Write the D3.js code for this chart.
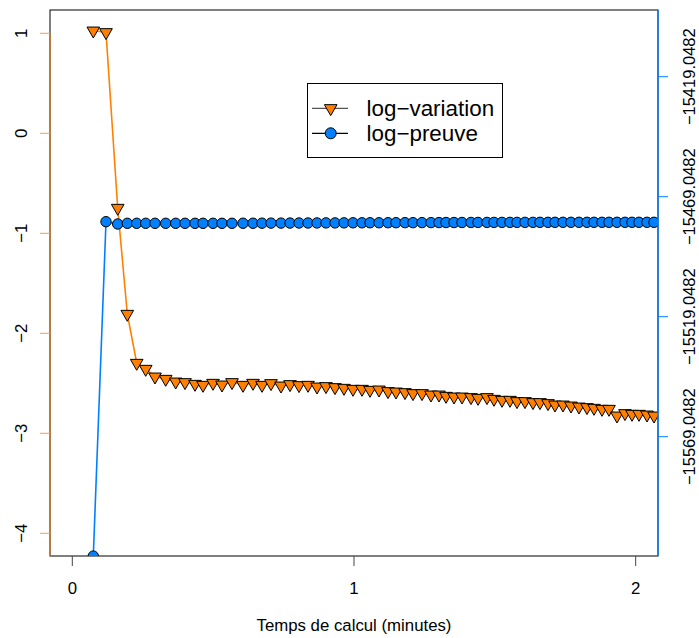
<!DOCTYPE html>
<html><head><meta charset="utf-8">
<script src="https://cdn.jsdelivr.net/npm/d3@7"></script>
<style>html,body{margin:0;padding:0;background:#fff;} svg{display:block;font-family:"Liberation Sans",Arial,sans-serif;}</style>
</head><body>
<svg id="chart" width="699" height="638"></svg>
<script>
const times = [0.0745,0.1196,0.1612,0.1952,0.2286,0.2606,0.2936,0.3316,0.3671,0.4001,
0.4356,0.4640,0.4995,0.5314,0.5669,0.6060,0.6415,0.6734,0.7054,0.7409,
0.7728,0.8048,0.8367,0.8687,0.9006,0.9326,0.9645,0.9965,1.0284,1.0568,
1.0887,1.1207,1.1491,1.1810,1.2094,1.2414,1.2733,1.3017,1.3266,1.3550,
1.3834,1.4153,1.4402,1.4721,1.4970,1.5254,1.5538,1.5786,1.6070,1.6354,
1.6603,1.6887,1.7135,1.7419,1.7703,1.7987,1.8271,1.8520,1.8804,1.9052,
1.9336,1.9620,1.9869,2.0117,2.0401,2.0650];
const logVariation = [1.026,1.010,-0.747,-1.807,-2.297,-2.357,-2.434,-2.457,-2.484,-2.490,
-2.507,-2.517,-2.497,-2.514,-2.490,-2.517,-2.497,-2.517,-2.500,-2.524,
-2.510,-2.520,-2.517,-2.534,-2.530,-2.540,-2.547,-2.557,-2.557,-2.567,
-2.564,-2.580,-2.584,-2.590,-2.600,-2.600,-2.614,-2.614,-2.627,-2.634,
-2.634,-2.640,-2.647,-2.640,-2.657,-2.667,-2.667,-2.680,-2.680,-2.690,
-2.690,-2.700,-2.714,-2.714,-2.724,-2.734,-2.740,-2.747,-2.757,-2.757,
-2.824,-2.800,-2.807,-2.807,-2.814,-2.824];
const logPreuve = [-15618.8,-15479.46,-15480.42,-15480.13,-15480.13,-15480.13,-15480.13,-15480.13,-15480.13,-15480.13,
-15480.13,-15480.13,-15480.13,-15480.13,-15480.13,-15480.10,-15480.10,-15480.08,-15480.05,-15480.05,
-15480.02,-15480.00,-15480.00,-15479.98,-15479.96,-15479.96,-15479.94,-15479.92,-15479.92,-15479.90,
-15479.90,-15479.88,-15479.88,-15479.86,-15479.86,-15479.84,-15479.84,-15479.82,-15479.80,-15479.80,
-15479.78,-15479.78,-15479.76,-15479.76,-15479.75,-15479.75,-15479.74,-15479.74,-15479.73,-15479.73,
-15479.72,-15479.72,-15479.71,-15479.71,-15479.71,-15479.71,-15479.71,-15479.71,-15479.71,-15479.71,
-15479.71,-15479.71,-15479.71,-15479.71,-15479.71,-15479.71];
const xTicks = [0, 1, 2];
const leftTicks = [1, 0, -1, -2, -3, -4];
const rightTicks = [-15419.0482, -15469.0482, -15519.0482, -15569.0482];
const rightTickLabels = ["\u221215419.0482", "\u221215469.0482", "\u221215519.0482", "\u221215569.0482"];
const seriesNames = ["log\u2212variation", "log\u2212preuve"];
const xTitle = "Temps de calcul (minutes)";

const ORANGE = "#ff8000", BLUE = "#0080ff";
const L = 50, R = 658, T = 10, B = 556;
const svg = d3.select("#chart");
const x = d3.scaleLinear().domain([-0.0792, 2.0792]).range([L, R]);
const yL = d3.scaleLinear().domain([-4.227, 1.233]).range([B, T]);
const yR = d3.scaleLinear().domain([-15618.76, -15391.25]).range([B, T]);

svg.append("defs").append("clipPath").attr("id","clip")
  .append("rect").attr("x",L).attr("y",T).attr("width",R-L).attr("height",B-T);

// box
svg.append("rect").attr("x",L).attr("y",T).attr("width",R-L).attr("height",B-T)
  .attr("fill","none").attr("stroke","#000").attr("stroke-width",1);

const plot = svg.append("g").attr("clip-path","url(#clip)");
const triPath = (r) => `M0,${r} L${r*Math.sqrt(3)/2},${-r/2} L${-r*Math.sqrt(3)/2},${-r/2} Z`;

// orange series
const dv = times.map((t,i)=>[t, logVariation[i]]);
plot.append("path").datum(dv)
  .attr("d", d3.line().x(d=>x(d[0])).y(d=>yL(d[1])))
  .attr("fill","none").attr("stroke",ORANGE).attr("stroke-width",1.6);
plot.selectAll(".tri").data(dv).enter().append("path")
  .attr("transform", d=>`translate(${x(d[0])},${yL(d[1])})`)
  .attr("d", triPath(7.3)).attr("fill",ORANGE).attr("stroke","#000").attr("stroke-width",1);

// blue series
const dp = times.map((t,i)=>[t, logPreuve[i]]);
plot.append("path").datum(dp)
  .attr("d", d3.line().x(d=>x(d[0])).y(d=>yR(d[1])))
  .attr("fill","none").attr("stroke",BLUE).attr("stroke-width",1.6);
plot.selectAll(".circ").data(dp).enter().append("circle")
  .attr("cx", d=>x(d[0])).attr("cy", d=>yR(d[1])).attr("r",5.2)
  .attr("fill",BLUE).attr("stroke","#000").attr("stroke-width",1);

// left axis
svg.append("line").attr("x1",L).attr("x2",L).attr("y1",yL(1)).attr("y2",B)
  .attr("stroke","#c47a2e").attr("stroke-width",1.6);
const gl = svg.append("g");
gl.selectAll("line").data(leftTicks).enter().append("line")
  .attr("x1",L-10).attr("x2",L).attr("y1",d=>yL(d)).attr("y2",d=>yL(d))
  .attr("stroke","#ff9a40").attr("stroke-width",1);
gl.selectAll("text").data(leftTicks).enter().append("text")
  .attr("transform", d=>`translate(27,${yL(d)}) rotate(-90)`)
  .attr("text-anchor","middle").attr("font-size",16.8).attr("fill","#000")
  .text(d=>d3.format("d")(d).replace("-","\u2212"));

// right axis
svg.append("line").attr("x1",R).attr("x2",R).attr("y1",T).attr("y2",B)
  .attr("stroke",BLUE).attr("stroke-width",1.4);
const gr = svg.append("g");
gr.selectAll("line").data(rightTicks).enter().append("line")
  .attr("x1",R).attr("x2",R+10).attr("y1",d=>yR(d)).attr("y2",d=>yR(d))
  .attr("stroke",BLUE).attr("stroke-width",1);
gr.selectAll("text").data(rightTicks).enter().append("text")
  .attr("transform", d=>`translate(694.5,${yR(d)}) rotate(-90)`)
  .attr("text-anchor","middle").attr("font-size",16.5).attr("fill","#000")
  .text((d,i)=>rightTickLabels[i]);

// bottom axis
const gb = svg.append("g");
gb.selectAll("line").data(xTicks).enter().append("line")
  .attr("x1",d=>x(d)).attr("x2",d=>x(d)).attr("y1",B).attr("y2",B+10)
  .attr("stroke","#444").attr("stroke-width",1);
gb.selectAll("text").data(xTicks).enter().append("text")
  .attr("x",d=>x(d)).attr("y",593.5).attr("text-anchor","middle")
  .attr("font-size",16.8).attr("fill","#000").text(d=>d);
svg.append("text").attr("x",(L+R)/2).attr("y",631).attr("text-anchor","middle")
  .attr("font-size",16.8).attr("fill","#000").text(xTitle);

// legend
const lg = svg.append("g");
lg.append("rect").attr("x",307.5).attr("y",83.5).attr("width",195).attr("height",74)
  .attr("fill","#fff").attr("stroke","#000").attr("stroke-width",1);
const rows = [108.3, 133.3];
lg.append("line").attr("x1",312).attr("x2",348).attr("y1",rows[0]).attr("y2",rows[0]).attr("stroke","#555").attr("stroke-width",1.2);
lg.append("path").attr("transform",`translate(330.7,${rows[0]})`).attr("d",triPath(7.3))
  .attr("fill",ORANGE).attr("stroke","#000");
lg.append("line").attr("x1",312).attr("x2",348).attr("y1",rows[1]).attr("y2",rows[1]).attr("stroke","#000").attr("stroke-width",1.2);
lg.append("circle").attr("cx",330.7).attr("cy",rows[1]).attr("r",5.5)
  .attr("fill",BLUE).attr("stroke","#000");
lg.selectAll("text").data(seriesNames).enter().append("text")
  .attr("x",366.5).attr("y",(d,i)=>rows[i]+8).attr("font-size",22.4).attr("fill","#000").text(d=>d);
</script>
</body></html>
